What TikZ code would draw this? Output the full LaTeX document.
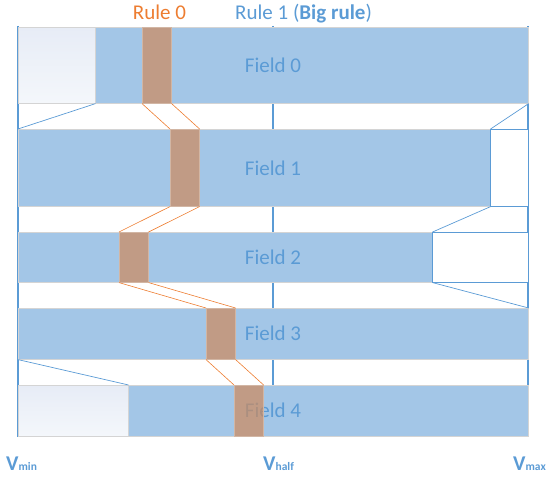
\documentclass[tikz,border=0pt]{standalone}
\usepackage{fontspec}
\setmainfont{Carlito}
\definecolor{barblue}{HTML}{A3C6E7}
\definecolor{lineblue}{HTML}{5B9BD5}
\definecolor{ruleorange}{HTML}{ED7D31}
\definecolor{rulebrown}{HTML}{CE8A5C}
\definecolor{edgegray}{HTML}{D4D4D4}
\definecolor{paleleft}{HTML}{E7ECF6}
\definecolor{paleright}{HTML}{F4F7FB}
\newcommand{\vsub}[1]{{\fontsize{11.5}{12}\selectfont #1}}

\begin{document}
\begin{tikzpicture}[
    x=1pt, y=-1pt,
    bar/.style={draw=edgegray, line width=0.6pt, fill=barblue, rectangle, inner sep=0pt, anchor=north west},
    bar-pale/.style={bar, shading angle=120, top color=paleleft, bottom color=paleright},
    bar-empty/.style={bar, draw=lineblue, fill=white},
    rule-box/.style={rectangle, inner sep=0pt, anchor=north west, minimum width=29pt, fill=rulebrown, fill opacity=0.7, draw=edgegray!60!rulebrown, line width=0.6pt},
    rule-link/.style={draw=ruleorange, line width=0.6pt},
    trap-link/.style={draw=lineblue, line width=0.7pt},
    axis/.style={draw=lineblue, line width=2pt},
    label/.style={font=\fontsize{21}{24}\selectfont, inner sep=0pt},
    field-label/.style={label, text=lineblue},
    v-label/.style={font=\fontsize{21}{24}\selectfont\bfseries, text=lineblue, inner sep=0pt, anchor=base west}
]
\useasboundingbox (0,0) rectangle (550,478);

% --- Axis lines ---
\draw[axis] (18,26) -- (18,437);
\draw[axis] (528,26) -- (528,437);
\draw[axis, line width=1.3pt] (273,26) -- (273,437);

% --- Field bars ---
\node[bar-pale, minimum width=77pt, minimum height=76pt] (p0) at (18,27) {};
\node[bar, minimum width=433pt, minimum height=76pt] (b0) at (95,27) {};

\node[bar, minimum width=472pt, minimum height=77pt] (b1) at (18,129) {};
\node[bar-empty, minimum width=38pt, minimum height=77pt] (e1) at (490,129) {};

\node[bar, minimum width=414pt, minimum height=50pt] (b2) at (18,232) {};
\node[bar-empty, minimum width=96pt, minimum height=50pt] (e2) at (432,232) {};

\node[bar, minimum width=510pt, minimum height=51pt] (b3) at (18,308) {};

\node[bar-pale, minimum width=110pt, minimum height=51pt] (p4) at (18,385) {};
\node[bar, minimum width=400pt, minimum height=51pt] (b4) at (128,385) {};

% Field names
\node[field-label] (f0) at (273,65) {Field 0};
\node[field-label] (f1) at (273,168) {Field 1};
\node[field-label] (f2) at (273,257) {Field 2};
\node[field-label] (f3) at (273,333) {Field 3};
\node[field-label] (f4) at (273,410) {Field 4};

% --- Big rule outline ---
\draw[trap-link] (p0.south east) -- (b1.north west);
\draw[trap-link] (b0.south east) -- (b1.north east);
\draw[trap-link] (b1.south east) -- (b2.north east);
\draw[trap-link] (b2.south east) -- (b3.north east);
\draw[trap-link] (b3.south west) -- (p4.north east);

% --- Rule 0 ---
\foreach \i/\x/\y/\h in {0/142/27/76, 1/170/129/77, 2/119/232/50, 3/206/308/51, 4/234/385/51} {
    \node[rule-box, minimum height=\h pt] (r\i) at (\x,\y) {};
}
\foreach \i in {0,1,2,3} {
    \pgfmathtruncatemacro{\j}{\i+1}
    \draw[rule-link] (r\i.south west) -- (r\j.north west);
    \draw[rule-link] (r\i.south east) -- (r\j.north east);
}

% --- Labels ---
\node[label, text=ruleorange, anchor=base] (rule0) at (159.5,20) {Rule 0};
\node[label, text=lineblue, anchor=base west] (rule1) at (235,20) {Rule 1 (\textbf{Big rule})};

\node[v-label] (vmin) at (6,471) {V\vsub{min}};
\node[v-label] (vhalf) at (263,471) {V\vsub{half}};
\node[v-label] (vmax) at (513,471) {V\vsub{max}};

\end{tikzpicture}
\end{document}
